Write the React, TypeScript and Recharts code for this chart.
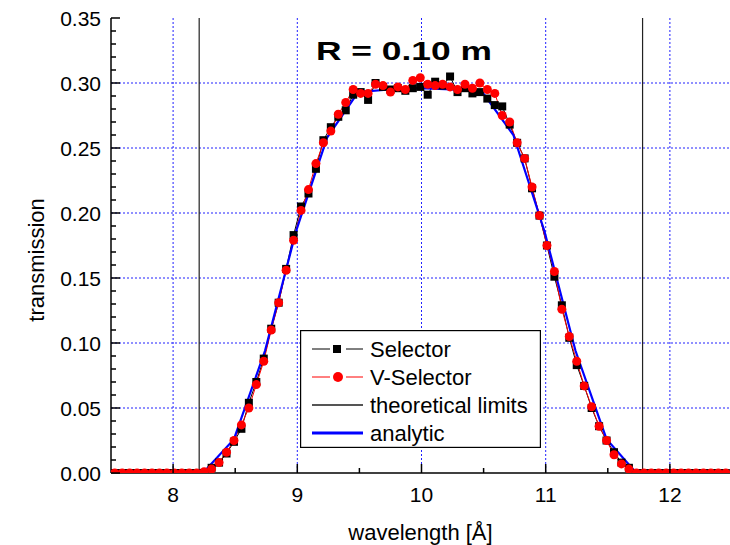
import { LineChart, Line, XAxis, YAxis, CartesianGrid, ReferenceLine, Legend } from "recharts";

const FONT = "'Liberation Sans', Arial, Helvetica, sans-serif";

// wavelength grid of the measured points [Å]
const WAVELENGTH = [
  7.53, 7.59, 7.65, 7.71, 7.77, 7.83, 7.89, 7.95, 8.01, 8.07, 8.13, 8.19, 8.25, 8.31, 8.37, 8.43,
  8.49, 8.55, 8.61, 8.67, 8.73, 8.79, 8.85, 8.91, 8.97, 9.03, 9.09, 9.15, 9.21, 9.27, 9.33, 9.39,
  9.45, 9.51, 9.57, 9.63, 9.69, 9.75, 9.81, 9.87, 9.93, 9.99, 10.05, 10.11, 10.17, 10.23, 10.29,
  10.35, 10.41, 10.47, 10.53, 10.59, 10.65, 10.71, 10.77, 10.83, 10.89, 10.95, 11.01, 11.07, 11.13,
  11.19, 11.25, 11.31, 11.37, 11.43, 11.49, 11.55, 11.61, 11.67, 11.73, 11.79, 11.85, 11.91, 11.97,
  12.03, 12.09, 12.15, 12.21, 12.27, 12.33, 12.39, 12.45,
];

const SELECTOR = [
  0, 0, 0, 0, 0, 0, 0, 0, 0, 0, 0, 0, 0,
  0.004, 0.008, 0.015, 0.024, 0.034, 0.054, 0.07,
  0.088, 0.111, 0.131, 0.157, 0.183, 0.205, 0.215, 0.234, 0.256, 0.266,
  0.274, 0.279, 0.291, 0.293, 0.287, 0.3, 0.297, 0.295, 0.296, 0.294,
  0.296, 0.297, 0.291, 0.301, 0.298, 0.305, 0.293, 0.296, 0.292, 0.293,
  0.288, 0.283, 0.282, 0.268, 0.254, 0.242, 0.219, 0.198, 0.175, 0.151,
  0.129, 0.104, 0.083, 0.067, 0.05, 0.036, 0.025, 0.016, 0.008, 0.004,
  0, 0, 0, 0, 0, 0, 0, 0, 0, 0, 0, 0, 0,
];

const V_SELECTOR = [
  0, 0, 0, 0, 0, 0, 0, 0, 0, 0, 0, 0,
  0.001, 0.003, 0.008, 0.016, 0.025, 0.037, 0.05, 0.068,
  0.086, 0.11, 0.131, 0.156, 0.179, 0.202, 0.218, 0.238, 0.254, 0.263,
  0.276, 0.285, 0.295, 0.292, 0.292, 0.299, 0.298, 0.293, 0.297, 0.295,
  0.302, 0.304, 0.299, 0.298, 0.299, 0.297, 0.295, 0.299, 0.296, 0.3,
  0.295, 0.292, 0.275, 0.27, 0.254, 0.242, 0.22, 0.198, 0.175, 0.155,
  0.126, 0.105, 0.086, 0.067, 0.051, 0.036, 0.025, 0.014, 0.007, 0.003,
  0, 0, 0, 0, 0, 0, 0, 0, 0, 0, 0, 0, 0,
];

const ANALYTIC_X = [7.5, 8.24, 8.49, 8.74, 8.99, 9.24, 9.49, 9.74, 9.99, 10.24, 10.49, 10.74, 10.99, 11.24, 11.49, 11.73, 12.5];
const ANALYTIC_Y = [0, 0, 0.026, 0.094, 0.186, 0.258, 0.293, 0.295, 0.296, 0.295, 0.293, 0.26, 0.186, 0.094, 0.026, 0, 0];

const LIMITS = [8.21, 11.78];

const X_MAJOR = [8, 9, 10, 11, 12];
const X_TICKS = [8, 8.5, 9, 9.5, 10, 10.5, 11, 11.5, 12];
const Y_MAJOR = [0, 0.05, 0.1, 0.15, 0.2, 0.25, 0.3, 0.35];
const Y_TICKS = [
  0, 0.01, 0.02, 0.03, 0.04, 0.05, 0.06, 0.07, 0.08, 0.09, 0.1, 0.11, 0.12, 0.13, 0.14, 0.15, 0.16,
  0.17, 0.18, 0.19, 0.2, 0.21, 0.22, 0.23, 0.24, 0.25, 0.26, 0.27, 0.28, 0.29, 0.3, 0.31, 0.32, 0.33,
  0.34, 0.35,
];

const selectorData = WAVELENGTH.map((x, i) => ({ x, y: SELECTOR[i] }));
const vSelectorData = WAVELENGTH.map((x, i) => ({ x, y: V_SELECTOR[i] }));
const analyticData = ANALYTIC_X.map((x, i) => ({ x, y: ANALYTIC_Y[i] }));

const isMajor = (list: number[], v: number) => list.some((m) => Math.abs(m - v) < 1e-9);

const MAJOR_LEN = 9;
const MINOR_LEN = 5;

function BottomTick({ x, y, payload }: any) {
  const major = isMajor(X_MAJOR, payload.value);
  return (
    <g>
      <line x1={x} x2={x} y1={y} y2={y - (major ? MAJOR_LEN : MINOR_LEN)} stroke="#000" strokeWidth={1.5} />
      {major && (
        <text x={x} y={y + 29} textAnchor="middle" fontSize={21} fontFamily={FONT} fill="#000">
          {payload.value}
        </text>
      )}
    </g>
  );
}

function TopTick({ x, y, payload }: any) {
  const major = isMajor(X_MAJOR, payload.value);
  return <line x1={x} x2={x} y1={y} y2={y + (major ? MAJOR_LEN : MINOR_LEN)} stroke="#000" strokeWidth={1.5} />;
}

function LeftTick({ x, y, payload }: any) {
  const major = isMajor(Y_MAJOR, payload.value);
  return (
    <g>
      <line x1={x} x2={x + (major ? MAJOR_LEN : MINOR_LEN)} y1={y} y2={y} stroke="#000" strokeWidth={1.5} />
      {major && (
        <text x={x - 10} y={y} dy="0.36em" textAnchor="end" fontSize={21} fontFamily={FONT} fill="#000">
          {payload.value.toFixed(2)}
        </text>
      )}
    </g>
  );
}

function RightTick({ x, y, payload }: any) {
  const major = isMajor(Y_MAJOR, payload.value);
  return <line x1={x} x2={x - (major ? MAJOR_LEN : MINOR_LEN)} y1={y} y2={y} stroke="#000" strokeWidth={1.5} />;
}

function SquareDot(props: any) {
  const { cx, cy, index } = props;
  if (cx == null || cy == null) return <g key={`sq-${index}`} />;
  return <rect key={`sq-${index}`} x={cx - 4} y={cy - 4} width={8} height={8} fill="#000" />;
}

const legendRows = [
  { label: "Selector", color: "#000", marker: "square", width: 1 },
  { label: "V-Selector", color: "#ff0000", marker: "circle", width: 1 },
  { label: "theoretical limits", color: "#555", marker: "none", width: 2 },
  { label: "analytic", color: "#0000ff", marker: "none", width: 3 },
];

function ChartLegend() {
  return (
    <svg width={241} height={118} style={{ display: "block" }}>
      <rect x={0.5} y={0.5} width={240} height={117} fill="#fff" stroke="#000" strokeWidth={1.4} />
      {legendRows.map((row, i) => {
        const cy = 19 + i * 28;
        return (
          <g key={row.label}>
            {row.marker === "none" ? (
              <line x1={12} x2={63} y1={cy} y2={cy} stroke={row.color} strokeWidth={row.width} />
            ) : (
              <>
                <line x1={12} x2={30} y1={cy} y2={cy} stroke={row.color} strokeWidth={1} />
                <line x1={46} x2={63} y1={cy} y2={cy} stroke={row.color} strokeWidth={1} />
                {row.marker === "square" ? (
                  <rect x={33} y={cy - 4} width={8} height={8} fill={row.color} />
                ) : (
                  <circle cx={38} cy={cy} r={5} fill={row.color} />
                )}
              </>
            )}
            <text x={70} y={cy} dy="0.36em" fontSize={22} fontFamily={FONT} fill="#000">
              {row.label}
            </text>
          </g>
        );
      })}
    </svg>
  );
}

export default function App() {
  return (
    <div style={{ position: "fixed", left: 0, top: 0, width: 730, height: 545, overflow: "hidden", background: "#fff" }}>
      <LineChart width={740} height={545} margin={{ top: 18, right: 8, bottom: 32, left: 0 }}>
        <CartesianGrid
          stroke="#2020ff"
          strokeDasharray="2 2"
          horizontalValues={[0.05, 0.1, 0.15, 0.2, 0.25, 0.3]}
          verticalValues={X_MAJOR}
        />
        <XAxis
          dataKey="x"
          type="number"
          domain={[7.5, 12.5]}
          allowDataOverflow
          ticks={X_TICKS}
          interval={0}
          height={40}
          tickSize={0}
          tickMargin={0}
          tickLine={false}
          tick={<BottomTick />}
          axisLine={{ stroke: "#000", strokeWidth: 1.5 }}
        />
        <XAxis
          xAxisId="top"
          orientation="top"
          dataKey="x"
          type="number"
          domain={[7.5, 12.5]}
          allowDataOverflow
          ticks={X_TICKS}
          interval={0}
          height={0}
          tickSize={0}
          tickMargin={0}
          tickLine={false}
          tick={<TopTick />}
          axisLine={{ stroke: "#000", strokeWidth: 1.5 }}
        />
        <YAxis
          type="number"
          domain={[0, 0.35]}
          allowDataOverflow
          ticks={Y_TICKS}
          interval={0}
          width={111}
          tickSize={0}
          tickMargin={0}
          tickLine={false}
          tick={<LeftTick />}
          axisLine={{ stroke: "#000", strokeWidth: 1.5 }}
        />
        <YAxis
          yAxisId="right"
          orientation="right"
          type="number"
          domain={[0, 0.35]}
          allowDataOverflow
          ticks={Y_TICKS}
          interval={0}
          width={0}
          tickSize={0}
          tickMargin={0}
          tickLine={false}
          tick={<RightTick />}
          axisLine={{ stroke: "#000", strokeWidth: 1.5 }}
        />
        {LIMITS.map((l) => (
          <ReferenceLine key={l} x={l} stroke="#222" strokeWidth={1.2} />
        ))}
        <Line
          data={selectorData}
          dataKey="y"
          name="Selector"
          stroke="#000"
          strokeWidth={1}
          dot={SquareDot}
          isAnimationActive={false}
        />
        <Line
          data={vSelectorData}
          dataKey="y"
          name="V-Selector"
          stroke="#ff0000"
          strokeWidth={1}
          dot={{ r: 4.5, fill: "#ff0000", stroke: "none" }}
          isAnimationActive={false}
        />
        <Line
          data={analyticData}
          dataKey="y"
          name="analytic"
          stroke="#0000ff"
          strokeWidth={2.2}
          dot={false}
          isAnimationActive={false}
        />
        <Legend
          layout="vertical"
          align="center"
          verticalAlign="middle"
          content={() => <ChartLegend />}
          wrapperStyle={{ left: 300, top: 330, width: 241, height: 118 }}
        />
        {/* title is rendered horizontally stretched like the original */}
        <g transform="translate(316 60) scale(1.36 1)">
          <text x={0} y={0} fontSize={26} fontWeight="bold" fontFamily={FONT} fill="#000">
            R = 0.10 m
          </text>
        </g>
        <text x={420.5} y={540} textAnchor="middle" fontSize={22} fontFamily={FONT} fill="#000">
          wavelength [Å]
        </text>
        <text
          x={36}
          y={260}
          transform="rotate(-90 36 260)"
          textAnchor="middle"
          dy="0.36em"
          fontSize={22}
          fontFamily={FONT}
          fill="#000"
        >
          transmission
        </text>
      </LineChart>
    </div>
  );
}
